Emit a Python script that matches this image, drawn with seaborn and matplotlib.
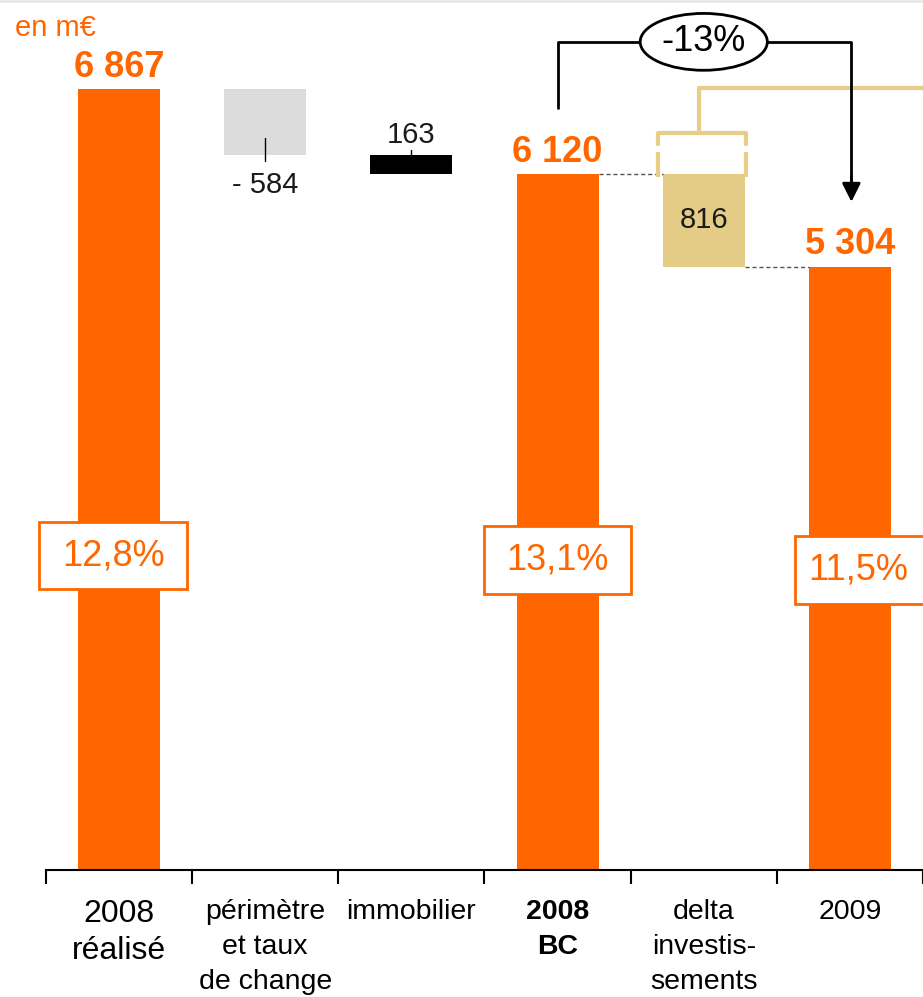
import matplotlib
matplotlib.use("Agg")
import matplotlib.pyplot as plt
from matplotlib.patches import Rectangle, Ellipse
import seaborn as sns
import numpy as np

# données du waterfall (en m€)
categories = ["2008\nréalisé", "périmètre\net taux\nde change", "immobilier",
              "2008\nBC", "delta\ninvestis-\nsements", "2009"]
values = [6867, -584, -163, 6120, -816, 5304]
kinds = ["total", "delta", "delta", "total", "delta", "total"]
value_labels = ["6 867", "- 584", "163", "6 120", "816", "5 304"]
bar_colors = ["#ff6600", "#dcdcdc", "#000000", "#ff6600", "#e4cc86", "#ff6600"]
margin_labels = ["12,8%", "13,1%", "11,5%"]
change_label = "-13%"

ORANGE = "#ff6600"
TAN = "#e6cd88"

# bas / hauteur de chaque barre
bottoms, heights = [], []
level = 0
for v, k in zip(values, kinds):
    if k == "total":
        bottoms.append(0)
        heights.append(v)
        level = v
    else:
        new = level + v
        bottoms.append(min(level, new))
        heights.append(abs(v))
        level = new

sns.set_theme(style="white")
plt.rcParams["font.family"] = ["Liberation Sans", "DejaVu Sans"]

fig = plt.figure(figsize=(9.23, 9.97), dpi=100)
ax = fig.add_axes([46 / 923, 127 / 997, 1 - 46 / 923, 870 / 997])

sns.barplot(x=categories, y=heights, bottom=bottoms, width=0.56, color=ORANGE,
            saturation=1, errorbar=None, ax=ax)
for p, c in zip(ax.patches, bar_colors):
    p.set_facecolor(c)
    p.set_edgecolor("none")

ax.set_ylim(0, 7650)
ax.set_xlim(-0.5, -0.5 + (1 - 46 / 923) * 923 / 146.8)
ax.set_yticks([])
for s in ["top", "right", "left"]:
    ax.spines[s].set_visible(False)
ax.spines["bottom"].set_color("black")
ax.spines["bottom"].set_linewidth(1.5)

ax.set_xticks(range(len(categories)))
ax.set_xticklabels(categories, fontsize=20.5, color="black", linespacing=1.45)
ax.set_xticks([i - 0.5 for i in range(len(categories) + 1)], minor=True)
ax.tick_params(axis="x", which="major", length=0, pad=21, bottom=True)
ax.tick_params(axis="x", which="minor", length=10, width=1.5, color="black",
               direction="out", bottom=True)
ax.get_xticklabels()[0].set_fontsize(23)
ax.get_xticklabels()[0].set_linespacing(1.3)
ax.get_xticklabels()[3].set_fontweight("bold")
ax.get_xticklabels()[3].set_linespacing(1.45)

# étiquettes des valeurs
for i, (k, lab) in enumerate(zip(kinds, value_labels)):
    top = bottoms[i] + heights[i]
    if k == "total":
        ax.annotate(lab, (i, top), xytext=(0, 9), textcoords="offset points",
                    ha="center", va="baseline", fontsize=26, fontweight="bold",
                    color=ORANGE)
ax.annotate(value_labels[1], (1, bottoms[1]), xytext=(0, -27), textcoords="offset points",
            ha="center", va="baseline", fontsize=21, color="#1a1a1a")
ax.plot([1, 1], [bottoms[1] - 45, bottoms[1] + 150], color="black", lw=1)
ax.annotate(value_labels[2], (2, bottoms[2] + heights[2]), xytext=(0, 9),
            textcoords="offset points", ha="center", va="baseline", fontsize=21,
            color="#1a1a1a")
ax.plot([2, 2], [bottoms[2] + heights[2], bottoms[2] + heights[2] + 45], color="black", lw=1)
ax.text(4, bottoms[4] + heights[4] / 2, value_labels[4], ha="center", va="center",
        fontsize=21, color="#1a1a1a")

# traits pointillés de liaison
ax.plot([3 + 0.28, 4 - 0.28], [values[3]] * 2, ls=(0, (3, 2)), color="#555555", lw=1)
ax.plot([4 + 0.28, 5 - 0.28], [values[5]] * 2, ls=(0, (3, 2)), color="#555555", lw=1)

# crochet beige au-dessus du delta investissements
b_top = values[3] + 360
ax.plot([3.69, 3.69], [values[3] - 30, b_top], color=TAN, lw=3, ls=(0, (6, 1.5)))
ax.plot([4.29, 4.29], [values[3] - 30, b_top], color=TAN, lw=3, ls=(0, (6, 1.5)))
ax.plot([3.69, 4.29], [b_top, b_top], color=TAN, lw=3)
ax.plot([3.97, 3.97, 5.6], [b_top, 6880, 6880], color=TAN, lw=3, clip_on=False)

# flèche -13%
y_arc = 7282
ax.plot([3, 3, 3.565], [6700, y_arc, y_arc], color="black", lw=2)
ax.plot([4.435, 5.01, 5.01], [y_arc, y_arc, 6000], color="black", lw=2)
ax.annotate("", xy=(5.01, 5875), xytext=(5.01, 6100),
            arrowprops=dict(arrowstyle="-|>", color="black", lw=2, mutation_scale=28,
                            shrinkA=0, shrinkB=0))
ax.add_patch(Ellipse((4.0, y_arc), 0.87, 500, facecolor="white", edgecolor="black",
                     lw=2, zorder=5))
ax.text(4.0, y_arc, change_label, ha="center", va="center", fontsize=26,
        color="black", zorder=6)

# encadrés de marge
box_x = [-0.04, 3.0, 5.13]
text_x = [-0.04, 3.0, 5.06]
box_y = [2762, 2726, 2638]
for lab, bx, tx, by in zip(margin_labels, box_x, text_x, box_y):
    ax.add_patch(Rectangle((bx - 0.505, by - 295), 1.01, 590, facecolor="white",
                           edgecolor=ORANGE, lw=2, zorder=5, clip_on=False))
    ax.text(tx, by, lab, ha="center", va="center", fontsize=26, color=ORANGE, zorder=6)

fig.text(15 / 923, 1 - 36 / 997, "en m€", ha="left", va="baseline", fontsize=21,
         color=ORANGE)
fig.add_artist(plt.Line2D([0, 1], [0.999, 0.999], color="#e8e8e8", lw=2,
                          transform=fig.transFigure))

fig.savefig("out.png", dpi=100)
